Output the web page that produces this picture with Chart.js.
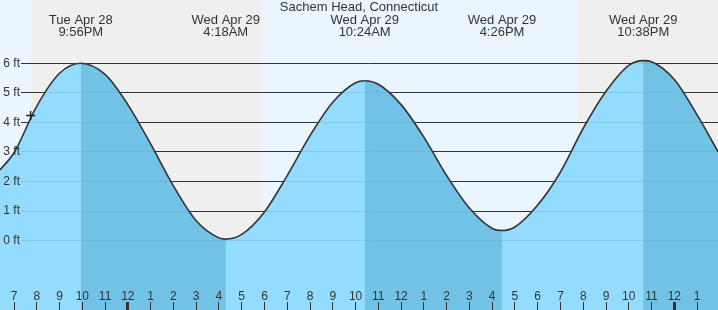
<!DOCTYPE html>
<html lang="en">
<head>
<meta charset="UTF-8">
<title>Sachem Head, Connecticut</title>
<style>
  html, body { margin: 0; padding: 0; background: #fff; }
  .grafico { position: relative; width: 718px; height: 310px; }
</style>
</head>
<body>
<div class="grafico"><canvas id="grafico-mare"></canvas></div>

<script src="https://cdn.jsdelivr.net/npm/chart.js"></script>
<script>
    // hours counted from Tue Apr 28 00:00, heights in ft
    var horas_mare = [18.385, 19, 20, 21, 21.933, 23, 24, 25, 26, 27, 28, 28.3,
        29, 30, 31, 32, 33, 34, 34.4, 35, 36, 37, 38, 39, 40, 40.433,
        41, 42, 43, 44, 45, 46, 46.633, 47, 48, 49, 49.918];
    var altura_pes = [2.39, 2.97, 4.55, 5.66, 6.0, 5.62, 4.6, 3.27, 1.85, 0.67, 0.09, 0.05,
        0.21, 0.97, 2.2, 3.55, 4.68, 5.34, 5.41, 5.29, 4.6, 3.5, 2.2, 1.1, 0.41, 0.34,
        0.46, 1.2, 2.32, 3.8, 5.05, 5.93, 6.09, 6.05, 5.45, 4.25, 3.01];

    // high / low labels on top
    var extremos_hora = [21.933, 28.3, 34.4, 40.433, 46.633];
    var extremos_dia = ['Tue Apr 28', 'Wed Apr 29', 'Wed Apr 29', 'Wed Apr 29', 'Wed Apr 29'];
    var extremos_texto = ['9:56PM', '4:18AM', '10:24AM', '4:26PM', '10:38PM'];

    // night = sunset -> sunrise
    var noite_inicio = [19.747, 43.77];
    var noite_fim = [29.848, 53.8];

    // "now" marker
    var agora_hora = [19.73];
    var agora_pes = [4.23];

    var ticks_horas = [];
    for (let h = 19; h <= 49; h++) ticks_horas.push(h);
    var ticks_pes = [0, 1, 2, 3, 4, 5, 6];

    var titulo = 'Sachem Head, Connecticut';

    var fonte = 'Liberation Sans, Arial, sans-serif';
    var corTexto = '#333';
    var corDia = '#ebf5fe';
    var corNoite = '#efefef';
    var agua = 'rgba(138, 217, 255, 0.9)';        // water, whole area
    var aguaDesce = 'rgba(91, 177, 213, 0.6)';    // darker on top while falling

    var fundo = {
        id: 'fundo',
        beforeDraw(chart) {
            const ctx = chart.ctx;
            const a = chart.chartArea;
            const x = chart.scales.x;
            ctx.save();
            ctx.fillStyle = corDia;
            ctx.fillRect(a.left, a.top, a.right - a.left, a.bottom - a.top);
            ctx.fillStyle = corNoite;
            for (let i = 0; i < noite_inicio.length; i++) {
                const x0 = Math.max(a.left, Math.round(x.getPixelForValue(noite_inicio[i])));
                const x1 = Math.min(a.right, Math.round(x.getPixelForValue(noite_fim[i])));
                if (x1 > x0) ctx.fillRect(x0, a.top, x1 - x0, a.bottom - a.top);
            }
            ctx.restore();
        }
    };

    var textos = {
        id: 'textos',
        afterDraw(chart) {
            const ctx = chart.ctx;
            const x = chart.scales.x;
            ctx.save();
            ctx.fillStyle = corTexto;
            ctx.textAlign = 'center';
            ctx.textBaseline = 'middle';
            ctx.font = '13px ' + fonte;
            ctx.fillText(titulo, chart.width / 2, 7.5);
            for (let i = 0; i < extremos_hora.length; i++) {
                const px = x.getPixelForValue(extremos_hora[i]);
                ctx.fillText(extremos_dia[i], px, 20);
                ctx.fillText(extremos_texto[i], px, 32);
            }
            ctx.restore();
        }
    };

    function semPadding(scale) {
        scale.paddingTop = 0;
        scale.paddingBottom = 0;
        scale.paddingLeft = 0;
        scale.paddingRight = 0;
    }

    var pontosMare = horas_mare.map((h, i) => ({ x: h, y: altura_pes[i] }));

    var graficoMare = new Chart(document.getElementById('grafico-mare'), {
        type: 'line',
        data: {
            datasets: [
                {
                    data: agora_hora.map((h, i) => ({ x: h, y: agora_pes[i] })),
                    showLine: false,
                    pointStyle: 'cross',
                    pointRadius: 4.5,
                    borderColor: '#222',
                    borderWidth: 1.5,
                    fill: false
                },
                {
                    // curve + darker shade on the falling parts
                    data: pontosMare,
                    borderColor: '#333',
                    borderWidth: 1.6,
                    pointRadius: 0,
                    cubicInterpolationMode: 'monotone',
                    fill: 'start',
                    backgroundColor: 'rgba(0,0,0,0)',
                    segment: {
                        backgroundColor: ctx => ctx.p1.parsed.y < ctx.p0.parsed.y ? aguaDesce : 'rgba(0,0,0,0)'
                    }
                },
                {
                    // water
                    data: pontosMare,
                    borderWidth: 0,
                    borderColor: 'rgba(0,0,0,0)',
                    pointRadius: 0,
                    cubicInterpolationMode: 'monotone',
                    fill: 'start',
                    backgroundColor: agua
                }
            ]
        },
        options: {
            responsive: true,
            maintainAspectRatio: false,
            animation: false,
            layout: { padding: 0, autoPadding: false },
            plugins: {
                legend: { display: false },
                tooltip: { enabled: false },
                title: { display: false }
            },
            scales: {
                x: {
                    type: 'linear',
                    min: 18.385,
                    max: 49.918,
                    position: { y: -2.08 },
                    afterBuildTicks: s => { s.ticks = ticks_horas.map(v => ({ value: v })); },
                    afterFit: semPadding,
                    grid: {
                        drawOnChartArea: false,
                        drawTicks: true,
                        tickLength: 8,
                        tickColor: '#333',
                        tickWidth: ctx => (ctx.tick && ctx.tick.value % 24 === 0) ? 3 : 1,
                        z: 1
                    },
                    border: { display: false },
                    ticks: {
                        autoSkip: false,
                        maxRotation: 0,
                        minRotation: 0,
                        padding: -21,
                        z: 1,
                        color: corTexto,
                        font: { family: fonte, size: 12 },
                        callback: v => (v % 12) || 12
                    }
                },
                y: {
                    type: 'linear',
                    min: -2.35,
                    max: 8.14,
                    position: { x: 19.264 },
                    afterBuildTicks: s => { s.ticks = ticks_pes.map(v => ({ value: v })); },
                    afterFit: semPadding,
                    grid: {
                        color: '#333',
                        lineWidth: 1,
                        drawTicks: false
                    },
                    border: { display: false, dash: [0, 21, 2000, 0] },
                    ticks: {
                        padding: 0,
                        z: 1,
                        color: corTexto,
                        font: { family: fonte, size: 12 },
                        callback: v => v + ' ft'
                    }
                }
            }
        },
        plugins: [fundo, textos]
    });
</script>
</body>
</html>
